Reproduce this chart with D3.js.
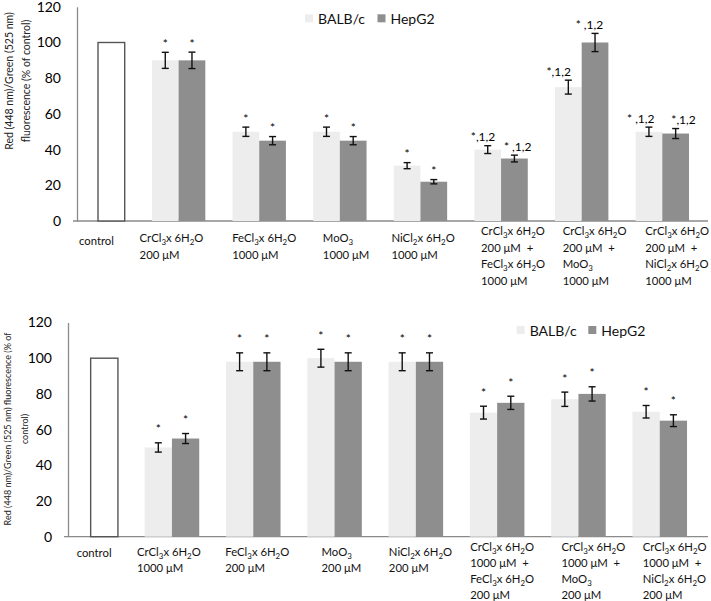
<!DOCTYPE html>
<html>
<head>
<meta charset="utf-8">
<script src="https://cdn.jsdelivr.net/npm/d3@7"></script>
<style>
  html, body { margin: 0; padding: 0; background: #fff; }
  svg { display: block; font-family: Lato, "Open Sans", sans-serif; }
  text { white-space: pre; }
</style>
</head>
<body>
<svg id="chart" width="711" height="601"></svg>
<script>
// ---------------- DATA ----------------
const seriesNames = ["BALB/c", "HepG2"];
const yTicks = [0, 20, 40, 60, 80, 100, 120];

// Top panel
const topCategories = [
  ["control"],
  ["CrCl_3x 6H_2O", "200 μM"],
  ["FeCl_3x 6H_2O", "1000 μM"],
  ["MoO_3", "1000 μM"],
  ["NiCl_2x 6H_2O", "1000 μM"],
  ["CrCl_3x 6H_2O", "200 μM  +", "FeCl_3x 6H_2O", "1000 μM"],
  ["CrCl_3x 6H_2O", "200 μM  +", "MoO_3", "1000 μM"],
  ["CrCl_3x 6H_2O", "200 μM  +", "NiCl_2x 6H_2O", "1000 μM"]
];
const topControl = [100, null, null, null, null, null, null, null];
const topBALB    = [null, 90, 50, 50, 31, 40, 75, 50];
const topBALBErr = [null, 4.5, 2.6, 2.6, 1.7, 2.2, 3.9, 2.6];
const topHepG2    = [null, 90, 45, 45, 22, 35, 100, 49];
const topHepG2Err = [null, 4.6, 2.3, 2.3, 1.2, 1.9, 5.1, 2.8];
const topBALBNote  = ["", "*", "*", "*", "*", "*,1,2", "*,1,2", "* ,1,2"];
const topHepG2Note = ["", "*", "*", "*", "*", "* ,1,2", "* ,1,2", "*,1,2"];

// Bottom panel
const botCategories = [
  ["control"],
  ["CrCl_3x 6H_2O", "1000 μM"],
  ["FeCl_3x 6H_2O", "200 μM"],
  ["MoO_3", "200 μM"],
  ["NiCl_2x 6H_2O", "200 μM"],
  ["CrCl_3x 6H_2O", "1000 μM  +", "FeCl_3x 6H_2O", "200 μM"],
  ["CrCl_3x 6H_2O", "1000 μM  +", "MoO_3", "200 μM"],
  ["CrCl_3x 6H_2O", "1000 μM  +", "NiCl_2x 6H_2O", "200 μM"]
];
const botControl = [100, null, null, null, null, null, null, null];
const botBALB    = [null, 50, 98, 100, 98, 69.5, 77, 70];
const botBALBErr = [null, 2.6, 5, 5, 5, 3.6, 4, 3.5];
const botHepG2    = [null, 55, 98, 98, 98, 75, 80, 65];
const botHepG2Err = [null, 2.8, 5, 5, 5, 3.7, 4, 3.3];
const botBALBNote  = ["", "*", "*", "*", "*", "*", "*", "*"];
const botHepG2Note = ["", "*", "*", "*", "*", "*", "*", "*"];

// ---------------- STYLE / LAYOUT ----------------
const COLORS = { "BALB/c": "#ededed", "HepG2": "#8e8e8e" };
const AXIS_COLOR = "#8a8a8a";

const svg = d3.select("#chart");

function addRichText(sel, str, subSize) {
  // "_d" marks a subscript digit
  const parts = str.split(/_(\d)/);
  let raised = false;
  parts.forEach((p, i) => {
    if (p === "") return;
    if (i % 2 === 1) {
      sel.append("tspan").attr("dy", 3).attr("font-size", subSize).text(p);
      raised = true;
    } else {
      const t = sel.append("tspan").text(p);
      if (raised) { t.attr("dy", -3); raised = false; }
    }
  });
}

function drawPanel(cfg) {
  const g = svg.append("g");
  const idx = d3.range(cfg.categories.length);

  const x = d3.scaleBand().domain(idx).range(cfg.xRange)
    .paddingInner(cfg.pad).paddingOuter(cfg.pad / 2);
  const xs = d3.scaleBand().domain(seriesNames).range([0, x.bandwidth()]);
  const y = d3.scaleLinear().domain([0, 120]).range(cfg.yRange);

  // y axis
  const yAxis = g.append("g").attr("transform", `translate(${cfg.axisX},0)`)
    .call(d3.axisLeft(y).tickValues(yTicks).tickSize(0).tickPadding(cfg.tickPad));
  yAxis.select(".domain").attr("stroke", AXIS_COLOR).attr("stroke-width", 1.3);
  yAxis.selectAll("text").attr("font-size", cfg.tickFont).attr("fill", "#000")
    .attr("font-family", "Lato, sans-serif");

  // x axis line
  g.append("line")
    .attr("x1", cfg.axisX - 4).attr("x2", cfg.axisEnd)
    .attr("y1", y(0)).attr("y2", y(0))
    .attr("stroke", AXIS_COLOR).attr("stroke-width", 1.3);

  // control bar
  g.selectAll("rect.ctrl").data(idx.filter(i => cfg.control[i] != null))
    .join("rect").attr("class", "ctrl")
    .attr("x", i => x(i) + xs("HepG2"))
    .attr("width", xs.bandwidth())
    .attr("y", i => y(cfg.control[i]))
    .attr("height", i => y(0) - y(cfg.control[i]))
    .attr("fill", "#fff").attr("stroke", "#555").attr("stroke-width", 1.4);

  const series = [
    { name: "BALB/c", vals: cfg.balb, errs: cfg.balbErr, notes: cfg.balbNote, ndx: cfg.balbNoteDx },
    { name: "HepG2", vals: cfg.hep, errs: cfg.hepErr, notes: cfg.hepNote, ndx: cfg.hepNoteDx }
  ];

  series.forEach(s => {
    const items = idx.filter(i => s.vals[i] != null);
    const cx = i => x(i) + xs(s.name) + xs.bandwidth() / 2;
    g.selectAll(null).data(items).join("rect")
      .attr("x", i => x(i) + xs(s.name))
      .attr("width", xs.bandwidth())
      .attr("y", i => y(s.vals[i]))
      .attr("height", i => y(0) - y(s.vals[i]))
      .attr("fill", COLORS[s.name]);
    // error bars
    const eb = g.selectAll(null).data(items).join("g").attr("stroke", "#111").attr("stroke-width", 1.4);
    eb.append("line").attr("x1", cx).attr("x2", cx)
      .attr("y1", i => y(s.vals[i] + s.errs[i])).attr("y2", i => y(s.vals[i] - s.errs[i]));
    eb.append("line").attr("x1", i => cx(i) - 3.5).attr("x2", i => cx(i) + 3.5)
      .attr("y1", i => y(s.vals[i] + s.errs[i])).attr("y2", i => y(s.vals[i] + s.errs[i]));
    eb.append("line").attr("x1", i => cx(i) - 3.5).attr("x2", i => cx(i) + 3.5)
      .attr("y1", i => y(s.vals[i] - s.errs[i])).attr("y2", i => y(s.vals[i] - s.errs[i]));
    // notes
    g.selectAll(null).data(items).join("text")
      .attr("x", i => cx(i) + (s.ndx ? s.ndx[i] : 0))
      .attr("y", i => y(s.vals[i] + s.errs[i]) - cfg.noteGap)
      .attr("text-anchor", "middle")
      .attr("font-size", cfg.noteFont)
      .text(i => s.notes[i]);
  });

  // category labels
  idx.forEach(i => {
    const lines = cfg.categories[i];
    const n = lines.length;
    const first = y(0) + (n === 1 ? cfg.lab1 : n === 2 ? cfg.lab2 : cfg.lab4);
    const lx = x(i) + x.bandwidth() / 2 + cfg.labelDx[i];
    lines.forEach((ln, k) => {
      const t = g.append("text").attr("x", lx).attr("y", first + k * cfg.lineH)
        .attr("font-size", cfg.labFont).attr("fill", "#111");
      addRichText(t, ln, cfg.labFont * 0.7);
    });
  });

  // y title
  cfg.title.forEach((t, k) => {
    g.append("text")
      .attr("transform", `translate(${cfg.titleX[k]},${cfg.titleY}) rotate(-90)`)
      .attr("text-anchor", "middle").attr("dominant-baseline", "central")
      .attr("font-size", cfg.titleFont).attr("fill", "#222").text(t);
  });

  // legend
  const lg = g.append("g");
  seriesNames.forEach((s, k) => {
    lg.append("rect").attr("x", cfg.legX[k]).attr("y", cfg.legY - 4)
      .attr("width", 8).attr("height", 8).attr("fill", COLORS[s]);
    lg.append("text").attr("x", cfg.legX[k] + 13).attr("y", cfg.legY)
      .attr("dominant-baseline", "central").attr("font-size", cfg.legFont).attr("fill", "#111").text(s);
  });
}

drawPanel({
  categories: topCategories, control: topControl,
  balb: topBALB, balbErr: topBALBErr, balbNote: topBALBNote,
  hep: topHepG2, hepErr: topHepG2Err, hepNote: topHepG2Note,
  balbNoteDx: [0, 0, 0, 0, 0, -4.7, -9.7, -8.2],
  hepNoteDx: [0, 0, 0, 0, 0, 3.3, -5.6, 7.9],
  xRange: [57.7, 702.6], pad: 0.3375, yRange: [221, 6.8],
  axisX: 77, axisEnd: 708, tickPad: 16, tickFont: 14,
  noteGap: 4.5, noteFont: 12,
  lab1: 24, lab2: 21, lab4: 14, lineH: 16.5, labFont: 11.3,
  labelDx: [-19, -39, -27, -17, -29, -20, -19, -17],
  title: ["Red (448 nm)/Green (525 nm)", "fluorescence (% of control)"],
  titleX: [9, 25.7], titleY: 81, titleFont: 10.5,
  legX: [305, 377.5], legY: 18.3, legFont: 14
});

drawPanel({
  categories: botCategories, control: botControl,
  balb: botBALB, balbErr: botBALBErr, balbNote: botBALBNote,
  hep: botHepG2, hepErr: botHepG2Err, hepNote: botHepG2Note,
  balbNoteDx: null, hepNoteDx: null,
  xRange: [50, 700.4], pad: 0.329, yRange: [536.7, 322.5],
  axisX: 68, axisEnd: 708, tickPad: 16, tickFont: 14,
  noteGap: 9.5, noteFont: 12,
  lab1: 20, lab2: 19, lab4: 14, lineH: 16, labFont: 11.3,
  labelDx: [-14, -35, -28, -13, -27, -27, -17, -17],
  title: ["Red (448 nm)/Green (525 nm) fluorescence (% of", "control)"],
  titleX: [7.3, 24], titleY: 429, titleFont: 9,
  legX: [516.7, 588.3], legY: 330, legFont: 14
});
</script>
</body>
</html>
